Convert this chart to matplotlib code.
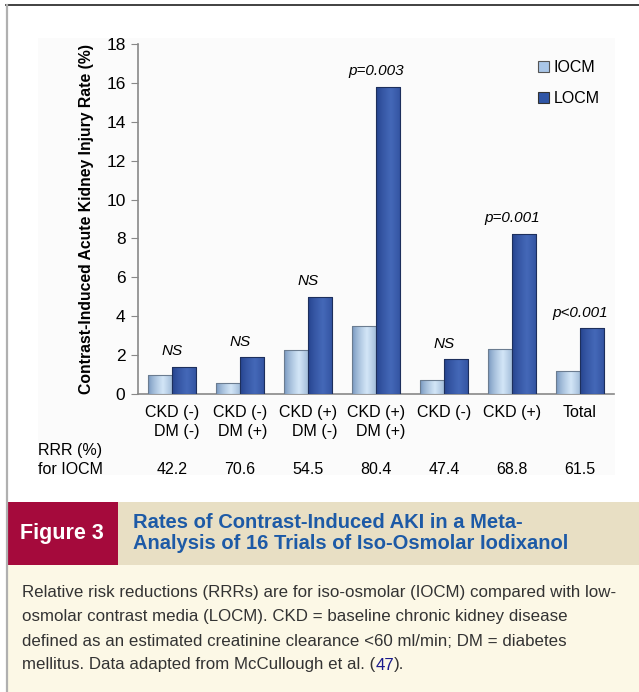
import matplotlib
matplotlib.use("Agg")
import matplotlib.pyplot as plt
import numpy as np
from matplotlib.patches import Rectangle, Patch
from matplotlib.lines import Line2D

plt.rcParams["font.family"] = ["Liberation Sans", "DejaVu Sans"]

# data
groups = ["CKD (-)\nDM (-)", "CKD (-)\nDM (+)", "CKD (+)\nDM (-)", "CKD (+)\nDM (+)",
          "CKD (-)", "CKD (+)", "Total"]
iocm = [1.0, 0.55, 2.25, 3.5, 0.7, 2.3, 1.2]
locm = [1.4, 1.9, 5.0, 15.8, 1.8, 8.25, 3.4]
pvals = ["NS", "NS", "NS", "p=0.003", "NS", "p=0.001", "p<0.001"]
rrr = ["42.2", "70.6", "54.5", "80.4", "47.4", "68.8", "61.5"]

W, H = 639, 692
fig = plt.figure(figsize=(W / 100, H / 100), dpi=100)
fig.patch.set_facecolor("white")


def fx(px):
    return px / W


def fy(py):
    return 1 - py / H


# frame and panel
fig.add_artist(Line2D([fx(6), 1], [fy(5), fy(5)], color="#333333", lw=1.3))
fig.add_artist(Line2D([fx(6.5), fx(6.5)], [fy(5), 0], color="#b0b0b0", lw=1.6))
fig.add_artist(Rectangle((fx(38), fy(475)), fx(615 - 38), (475 - 38) / H,
                         facecolor="#fbfbfb", edgecolor="none", zorder=0))

# caption blocks
fig.add_artist(Rectangle((fx(7.5), fy(565)), fx(118 - 7.5), 63 / H,
                         facecolor="#a50a3c", edgecolor="none"))
fig.add_artist(Rectangle((fx(118), fy(565)), fx(W - 118), 63 / H,
                         facecolor="#e8dfc4", edgecolor="none"))
fig.add_artist(Rectangle((fx(7.5), 0), fx(W - 7.5), (H - 565) / H,
                         facecolor="#fcf8e6", edgecolor="none"))
fig.text(fx(62), fy(533), "Figure 3", color="white", fontsize=15.5, fontweight="bold",
         ha="center", va="center")
fig.text(fx(133), fy(533), "Rates of Contrast-Induced AKI in a Meta-\nAnalysis of 16 Trials of Iso-Osmolar Iodixanol",
         color="#1d5aa6", fontsize=14.5, fontweight="bold", ha="left", va="center",
         linespacing=1.15)

cap_fs = 12.2
cap_lines = [
    "Relative risk reductions (RRRs) are for iso-osmolar (IOCM) compared with low-",
    "osmolar contrast media (LOCM). CKD = baseline chronic kidney disease",
    "defined as an estimated creatinine clearance <60 ml/min; DM = diabetes",
]
cap_y = [593, 617, 641, 665]
for line, y in zip(cap_lines, cap_y):
    fig.text(fx(22), fy(y), line, fontsize=cap_fs, color="#333333", va="center")

# chart axes
ax = fig.add_axes([fx(138), fy(394), fx(614 - 138), (394 - 44) / H])
ax.set_facecolor("none")
x = np.arange(len(groups))
bw = 0.36
b1 = ax.bar(x - bw / 2, iocm, bw, color="#a9c6e8", edgecolor="#6b7c90", lw=0.8, zorder=3)
b2 = ax.bar(x + bw / 2, locm, bw, color="#2f55a6", edgecolor="#1d2f5c", lw=0.8, zorder=3)


def shade(bars, c_edge, c_mid):
    c_edge = np.array(matplotlib.colors.to_rgb(c_edge))
    c_mid = np.array(matplotlib.colors.to_rgb(c_mid))
    t = np.linspace(0, 1, 64)
    w = np.clip(1 - np.abs(t - 0.6) / 0.6, 0, 1) ** 0.7
    grad = c_edge[None, :] * (1 - w[:, None]) + c_mid[None, :] * w[:, None]
    img = grad[None, :, :]
    for b in bars:
        x0, y0 = b.get_x(), b.get_y()
        im = ax.imshow(img, extent=[x0, x0 + b.get_width(), y0, y0 + b.get_height()],
                       aspect="auto", zorder=3.5, interpolation="bilinear")
        im.set_clip_path(b)
        b.set_facecolor("none")
        b.set_zorder(4)


shade(b1, "#6f90ba", "#d3e6f7")
shade(b2, "#23408a", "#4468b8")

ax.set_xlim(-0.5, len(groups) - 0.5)
ax.set_ylim(0, 18)
ax.set_yticks(np.arange(0, 19, 2))
ax.tick_params(axis="y", labelsize=12.5, length=5, color="#888888", pad=4)
ax.tick_params(axis="x", length=0, labelsize=11.5, pad=8)
ax.set_xticks(x)
ax.set_xticklabels(groups, multialignment="right", linespacing=1.3)
for s in ["top", "right"]:
    ax.spines[s].set_visible(False)
for s in ["left", "bottom"]:
    ax.spines[s].set_color("#888888")
    ax.spines[s].set_linewidth(1.2)

ax.set_ylabel("Contrast-Induced Acute Kidney Injury Rate (%)", fontsize=11.3,
              fontweight="bold", labelpad=9)

for xi, a, b, p in zip(x, iocm, locm, pvals):
    ax.annotate(p, (xi, max(a, b)), xytext=(0, 6), textcoords="offset points",
                ha="center", va="bottom", fontsize=11, style="italic")

handles = [Patch(facecolor="#a9c6e8", edgecolor="#555555", lw=0.8),
           Patch(facecolor="#2f55a6", edgecolor="#333333", lw=0.8)]
ax.legend(handles, ["IOCM", "LOCM"], loc="upper right", bbox_to_anchor=(1.0, 0.995),
          frameon=False, fontsize=11.5, handlelength=0.7, handleheight=0.7,
          handletextpad=0.3, labelspacing=1.0)

# RRR row
fig.text(fx(38), fy(460), "RRR (%)\nfor IOCM", fontsize=11.5, va="center", ha="left",
         linespacing=1.3)
for xi, r in zip(x, rrr):
    ax.text(xi, -(470 - 394) / (394 - 44), r, transform=ax.get_xaxis_transform(),
            fontsize=11.5, ha="center", va="center")

# last caption line with blue reference number
fig.canvas.draw()
rend = fig.canvas.get_renderer()
t1 = fig.text(fx(22), fy(665), "mellitus. Data adapted from McCullough et al. (",
              fontsize=cap_fs, color="#333333", va="center")
bb = t1.get_window_extent(rend)
t2 = fig.text(bb.x1 / W, fy(665), "47", fontsize=cap_fs, color="#1a1a8c", va="center")
bb2 = t2.get_window_extent(rend)
fig.text(bb2.x1 / W, fy(665), ").", fontsize=cap_fs, color="#333333", va="center")

fig.savefig("out.png", dpi=100)
